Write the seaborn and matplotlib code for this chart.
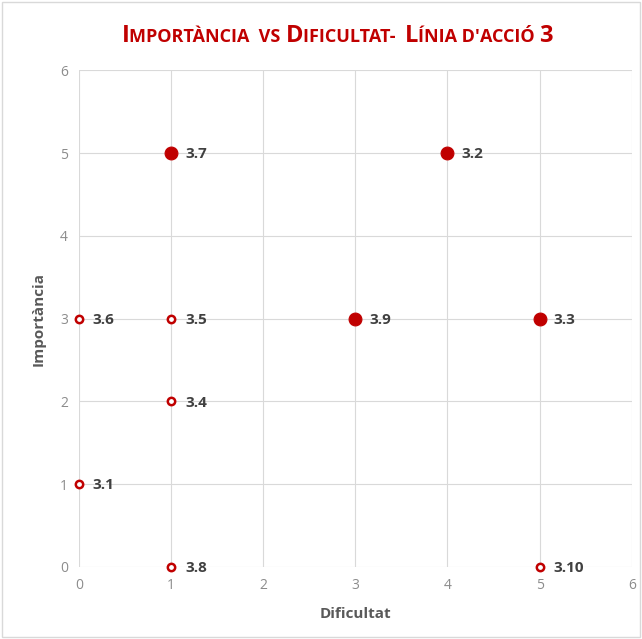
import pandas as pd
import seaborn as sns
import matplotlib.pyplot as plt
from matplotlib.offsetbox import TextArea, HPacker, AnchoredOffsetbox
from matplotlib.patches import Rectangle

# data
labels = ['3.1', '3.2', '3.3', '3.4', '3.5', '3.6', '3.7', '3.8', '3.9', '3.10']
dificultat = [0, 4, 5, 1, 1, 0, 1, 1, 3, 5]
importancia = [1, 5, 3, 2, 3, 3, 5, 0, 3, 0]
prioritat = ['no', 'si', 'si', 'no', 'no', 'no', 'si', 'no', 'si', 'no']

df = pd.DataFrame({'label': labels, 'Dificultat': dificultat,
                   'Importància': importancia, 'prioritat': prioritat})

sns.set_style('whitegrid')
plt.rcParams['font.family'] = ['Open Sans', 'DejaVu Sans']

red = '#C00000'
fig = plt.figure(figsize=(6.42, 6.39), dpi=100)
ax = fig.add_axes([0.123, 0.113, 0.861, 0.777])

big = df[df['prioritat'] == 'si']
small = df[df['prioritat'] == 'no']
sns.scatterplot(data=big, x='Dificultat', y='Importància', color=red, s=85,
                edgecolor=red, linewidth=0.8, ax=ax, zorder=3, clip_on=False)
sns.scatterplot(data=small, x='Dificultat', y='Importància', facecolor='white', s=28,
                edgecolor=red, linewidth=1.8, ax=ax, zorder=3, clip_on=False)

for _, r in df.iterrows():
    ax.annotate(r['label'], (r['Dificultat'], r['Importància']), xytext=(10, -1),
                textcoords='offset points', va='center', ha='left',
                fontsize=11, fontweight='bold', color='#404040')

ax.set_xlim(0, 6)
ax.set_ylim(0, 6)
ax.set_xticks(range(7))
ax.set_yticks(range(7))
ax.grid(color='#d9d9d9', linewidth=0.8)
for s in ax.spines.values():
    s.set_visible(False)
ax.tick_params(colors='#8c8c8c', labelsize=10, length=0, pad=8)
ax.set_xlabel('Dificultat', fontsize=11, fontweight='bold', color='#595959', labelpad=10)
ax.set_ylabel('Importància', fontsize=11, fontweight='bold', color='#595959', labelpad=10)

# small caps title
pieces = [('I', 17), ('MPORTÀNCIA  VS ', 13), ('D', 17), ('IFICULTAT-  ', 13),
          ('L', 17), ('ÍNIA D', 13), ("'", 13), ('ACCIÓ ', 13), ('3', 17)]
areas = [TextArea(t, textprops=dict(color=red, fontsize=sz, fontweight='bold'))
         for t, sz in pieces]
box = HPacker(children=areas, align='baseline', pad=0, sep=0)
anc = AnchoredOffsetbox(loc='center', child=box, frameon=False,
                        bbox_to_anchor=(0.525, 0.943), bbox_transform=fig.transFigure)
fig.add_artist(anc)

fig.add_artist(Rectangle((0.003, 0.003), 0.994, 0.994, transform=fig.transFigure,
                         fill=False, edgecolor='#d9d9d9', linewidth=1))

fig.savefig('out.png', dpi=100)
